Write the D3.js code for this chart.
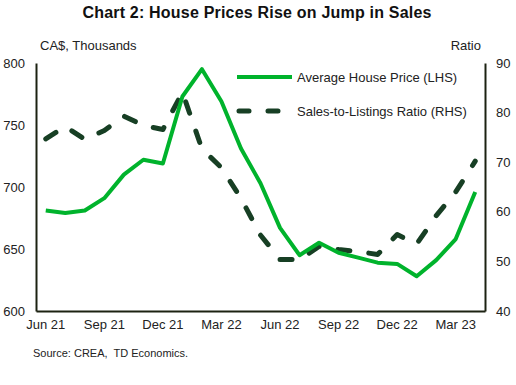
<!DOCTYPE html>
<html><head><meta charset="utf-8">
<script src="https://cdn.jsdelivr.net/npm/d3@7"></script>
<style>body{margin:0;background:#fff;} text{font-family:"Liberation Sans",Arial,sans-serif;}</style>
</head><body><svg id="c" width="516" height="385"></svg>
<script>
const months = ["Jun 21","Jul 21","Aug 21","Sep 21","Oct 21","Nov 21","Dec 21","Jan 22","Feb 22","Mar 22","Apr 22","May 22","Jun 22","Jul 22","Aug 22","Sep 22","Oct 22","Nov 22","Dec 22","Jan 23","Feb 23","Mar 23","Apr 23"];
const housePrice = [681,679,681,691,710,722,719,773,795,769,731,703,667,645,655,647,643,639,638,628,641,658,696];
const salesRatio = [74.7,77.2,74.6,76.4,79.3,77.4,76.6,84.1,72.7,68.9,62.7,55.3,50.4,50.4,53.0,52.4,52.0,51.4,55.4,53.5,59.2,64.0,70.2];
const xTicks = ["Jun 21","Sep 21","Dec 21","Mar 22","Jun 22","Sep 22","Dec 22","Mar 23"];
const leftTicks = [600,650,700,750,800];
const rightTicks = [40,50,60,70,80,90];

const svg = d3.select("#c");
const L=36, R=485, T=63, B=311;
const x = d3.scaleBand().domain(months).range([L,R]);
const cx = d => x(d)+x.bandwidth()/2;
const yL = d3.scaleLinear().domain([600,800]).range([B,T]);
const yR = d3.scaleLinear().domain([40,90]).range([B,T]);
const axisColor="#1c2212";

svg.append("text").attr("x",257).attr("y",18).attr("text-anchor","middle")
  .attr("font-size",16).attr("letter-spacing",0.2).attr("font-weight","bold").attr("fill","#111").text("Chart 2: House Prices Rise on Jump in Sales");
svg.append("text").attr("x",40).attr("y",50).attr("font-size",13).attr("fill","#222").text("CA$, Thousands");
svg.append("text").attr("x",481).attr("y",50).attr("text-anchor","end").attr("font-size",13).attr("fill","#222").text("Ratio");

const gl = svg.append("g").attr("transform",`translate(${L},0)`)
  .call(d3.axisLeft(yL).tickValues(leftTicks).tickSize(0).tickPadding(11).tickFormat(d3.format("d")));
const gr = svg.append("g").attr("transform",`translate(${R},0)`)
  .call(d3.axisRight(yR).tickValues(rightTicks).tickSize(0).tickPadding(11).tickFormat(d3.format("d")));
const gb = svg.append("g").attr("transform",`translate(0,${B})`)
  .call(d3.axisBottom(x).tickValues(xTicks).tickSize(0).tickPadding(9));
[gl,gr,gb].forEach(g=>{
  g.select(".domain").attr("stroke",axisColor).attr("stroke-width",2);
  g.selectAll("text").attr("font-size",13).attr("fill","#222").attr("font-family","Liberation Sans, Arial, sans-serif");
});

const lineL = d3.line().x((d,i)=>cx(months[i])).y(d=>yL(d));
const lineR = d3.line().x((d,i)=>cx(months[i])).y(d=>yR(d));
svg.append("path").datum(salesRatio).attr("d",lineR).attr("fill","none")
  .attr("stroke","#173f24").attr("stroke-width",5).attr("stroke-dasharray","12,19").attr("stroke-linecap","round").attr("stroke-linejoin","round");
svg.append("path").datum(housePrice).attr("d",lineL).attr("fill","none")
  .attr("stroke","#00b32c").attr("stroke-width",4).attr("stroke-linejoin","round");

// legend
svg.append("line").attr("x1",237).attr("x2",292).attr("y1",77).attr("y2",77).attr("stroke","#00b32c").attr("stroke-width",4);
svg.append("text").attr("x",297).attr("y",82).attr("font-size",13).attr("fill","#222").text("Average House Price (LHS)");
svg.append("line").attr("x1",239).attr("x2",292).attr("y1",111).attr("y2",111).attr("stroke","#173f24").attr("stroke-width",5)
  .attr("stroke-dasharray","10,19").attr("stroke-linecap","round");
svg.append("text").attr("x",297).attr("y",116).attr("font-size",13).attr("fill","#222").text("Sales-to-Listings Ratio (RHS)");

svg.append("text").attr("x",33).attr("y",357).attr("font-size",11).attr("fill","#222").attr("xml:space","preserve").text("Source: CREA,  TD Economics.");
</script></body></html>
